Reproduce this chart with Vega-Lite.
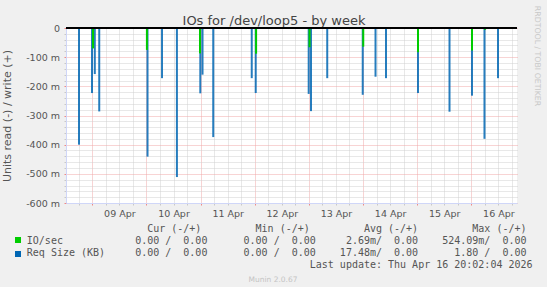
{
  "$schema": "https://vega.github.io/schema/vega-lite/v6.json",
  "width": 451,
  "height": 175,
  "autosize": "none",
  "padding": {"left": 66, "top": 28, "right": 30, "bottom": 84},
  "background": "#f0f0f0",
  "config": {
    "view": {"fill": "#ffffff", "stroke": null},
    "font": "DejaVu Sans",
    "axis": {"labelFont": "DejaVu Sans", "titleFont": "DejaVu Sans"}
  },
  "title": {
    "text": "Munin 2.0.67",
    "orient": "bottom",
    "anchor": "middle",
    "frame": "group",
    "dx": -18.5,
    "offset": 6,
    "fontSize": 7.5,
    "fontWeight": "normal",
    "font": "DejaVu Sans",
    "color": "#c4c4c4"
  },
  "data": {
    "values": [
      {"time": "2026-04-08T18:06:00Z", "series": "Req Size (KB)", "value": -0.400},
      {"time": "2026-04-08T23:52:00Z", "series": "Req Size (KB)", "value": -0.223},
      {"time": "2026-04-09T01:06:00Z", "series": "Req Size (KB)", "value": -0.158},
      {"time": "2026-04-09T03:04:00Z", "series": "Req Size (KB)", "value": -0.286},
      {"time": "2026-04-10T00:28:00Z", "series": "Req Size (KB)", "value": -0.441},
      {"time": "2026-04-10T06:54:00Z", "series": "Req Size (KB)", "value": -0.172},
      {"time": "2026-04-10T13:30:00Z", "series": "Req Size (KB)", "value": -0.511},
      {"time": "2026-04-10T23:52:00Z", "series": "Req Size (KB)", "value": -0.224},
      {"time": "2026-04-11T00:51:00Z", "series": "Req Size (KB)", "value": -0.160},
      {"time": "2026-04-11T05:36:00Z", "series": "Req Size (KB)", "value": -0.374},
      {"time": "2026-04-11T22:40:00Z", "series": "Req Size (KB)", "value": -0.172},
      {"time": "2026-04-12T00:26:00Z", "series": "Req Size (KB)", "value": -0.223},
      {"time": "2026-04-12T23:55:00Z", "series": "Req Size (KB)", "value": -0.226},
      {"time": "2026-04-13T00:56:00Z", "series": "Req Size (KB)", "value": -0.285},
      {"time": "2026-04-13T08:08:00Z", "series": "Req Size (KB)", "value": -0.172},
      {"time": "2026-04-13T23:52:00Z", "series": "Req Size (KB)", "value": -0.229},
      {"time": "2026-04-14T05:32:00Z", "series": "Req Size (KB)", "value": -0.167},
      {"time": "2026-04-14T10:11:00Z", "series": "Req Size (KB)", "value": -0.172},
      {"time": "2026-04-15T00:22:00Z", "series": "Req Size (KB)", "value": -0.223},
      {"time": "2026-04-15T14:20:00Z", "series": "Req Size (KB)", "value": -0.287},
      {"time": "2026-04-16T00:18:00Z", "series": "Req Size (KB)", "value": -0.232},
      {"time": "2026-04-16T05:50:00Z", "series": "Req Size (KB)", "value": -0.380},
      {"time": "2026-04-16T11:50:00Z", "series": "Req Size (KB)", "value": -0.172},
      {"time": "2026-04-09T00:18:00Z", "series": "IO/sec", "value": -0.070},
      {"time": "2026-04-10T00:12:00Z", "series": "IO/sec", "value": -0.075},
      {"time": "2026-04-10T23:44:00Z", "series": "IO/sec", "value": -0.087},
      {"time": "2026-04-12T00:36:00Z", "series": "IO/sec", "value": -0.088},
      {"time": "2026-04-13T00:18:00Z", "series": "IO/sec", "value": -0.066},
      {"time": "2026-04-14T00:06:00Z", "series": "IO/sec", "value": -0.064},
      {"time": "2026-04-15T00:22:00Z", "series": "IO/sec", "value": -0.083},
      {"time": "2026-04-16T00:18:00Z", "series": "IO/sec", "value": -0.077},
      {"time": "2026-04-16T06:06:00Z", "series": "IO/sec", "value": -0.006}
    ]
  },
  "layer": [
    {
      "transform": [{"filter": "datum.series === 'Req Size (KB)'"}],
      "mark": {"type": "rule", "strokeWidth": 2, "opacity": 0.85},
      "encoding": {
        "x": {
          "field": "time",
          "type": "temporal",
          "scale": {"type": "utc", "domain": [1775650800000, 1776370500000]},
          "axis": {
            "orient": "bottom",
            "values": [1775671200000, 1775692800000, 1775714400000, 1775736000000, 1775757600000, 1775779200000, 1775800800000, 1775822400000, 1775844000000, 1775865600000, 1775887200000, 1775908800000, 1775930400000, 1775952000000, 1775973600000, 1775995200000, 1776016800000, 1776038400000, 1776060000000, 1776081600000, 1776103200000, 1776124800000, 1776146400000, 1776168000000, 1776189600000, 1776211200000, 1776232800000, 1776254400000, 1776276000000, 1776297600000, 1776319200000, 1776340800000, 1776362400000],
            "labelExpr": "utchours(datum.value) == 12 ? utcFormat(datum.value, '%d %b') : ''",
            "labelOverlap": false,
            "labelFlush": false,
            "labelBound": false,
            "labelFontSize": 9.5,
            "labelColor": "#555555",
            "labelBaseline": "alphabetic",
            "labelAlign": "center",
            "labelPadding": 11.6,
            "grid": true,
            "gridColor": {"condition": {"test": "utchours(datum.value) == 0", "value": "#f0a8a8"}, "value": "#d0d0d0"},
            "gridDash": [1, 1],
            "gridWidth": 1,
            "ticks": true,
            "tickSize": 2,
            "tickColor": {"condition": {"test": "utchours(datum.value) == 0", "value": "#ee8888"}, "value": "#c8c8c8"},
            "domain": true,
            "domainColor": "#cfd6f8",
            "title": [
              "\u200b\u00a0\u00a0\u00a0\u00a0\u00a0\u00a0\u00a0\u00a0\u00a0\u00a0\u00a0\u00a0\u00a0\u00a0\u00a0\u00a0\u00a0\u00a0\u00a0\u00a0Cur\u00a0(-/+)\u00a0\u00a0\u00a0\u00a0\u00a0\u00a0\u00a0\u00a0\u00a0Min\u00a0(-/+)\u00a0\u00a0\u00a0\u00a0\u00a0\u00a0\u00a0\u00a0\u00a0Avg\u00a0(-/+)\u00a0\u00a0\u00a0\u00a0\u00a0\u00a0\u00a0\u00a0\u00a0Max\u00a0(-/+)",
              "IO/sec\u00a0\u00a0\u00a0\u00a0\u00a0\u00a0\u00a0\u00a0\u00a0\u00a0\u00a0\u00a00.00\u00a0/\u00a0\u00a00.00\u00a0\u00a0\u00a0\u00a0\u00a0\u00a00.00\u00a0/\u00a0\u00a00.00\u00a0\u00a0\u00a0\u00a0\u00a02.69m/\u00a0\u00a00.00\u00a0\u00a0\u00a0\u00a0524.09m/\u00a0\u00a00.00",
              "Req\u00a0Size\u00a0(KB)\u00a0\u00a0\u00a0\u00a0\u00a00.00\u00a0/\u00a0\u00a00.00\u00a0\u00a0\u00a0\u00a0\u00a0\u00a00.00\u00a0/\u00a0\u00a00.00\u00a0\u00a0\u00a0\u00a017.48m/\u00a0\u00a00.00\u00a0\u00a0\u00a0\u00a0\u00a0\u00a01.80\u00a0/\u00a0\u00a00.00",
              "\u200b\u00a0\u00a0\u00a0\u00a0\u00a0\u00a0\u00a0\u00a0\u00a0\u00a0\u00a0\u00a0\u00a0\u00a0\u00a0\u00a0\u00a0\u00a0\u00a0\u00a0\u00a0\u00a0\u00a0\u00a0\u00a0\u00a0\u00a0\u00a0\u00a0\u00a0\u00a0\u00a0\u00a0\u00a0\u00a0\u00a0\u00a0\u00a0\u00a0\u00a0\u00a0\u00a0\u00a0\u00a0\u00a0\u00a0\u00a0Last\u00a0update:\u00a0Thu\u00a0Apr\u00a016\u00a020:02:04\u00a02026"
            ],
            "titleFont": "DejaVu Sans Mono",
            "titleFontSize": 10,
            "titleFontWeight": "normal",
            "titleColor": "#555555",
            "titleX": -39.7,
            "titleY": 28.6,
            "titleAlign": "left",
            "titleBaseline": "alphabetic",
            "titleLineHeight": 12,
            "titleAngle": 0
          }
        },
        "y": {
          "field": "value",
          "type": "quantitative",
          "scale": {"domain": [-0.6, 0], "nice": false, "zero": false},
          "axis": {
            "orient": "left",
            "values": [0, -0.02, -0.04, -0.06, -0.08, -0.1, -0.12, -0.14, -0.16, -0.18, -0.2, -0.22, -0.24, -0.26, -0.28, -0.3, -0.32, -0.34, -0.36, -0.38, -0.4, -0.42, -0.44, -0.46, -0.48, -0.5, -0.52, -0.54, -0.56, -0.58, -0.6],
            "labelExpr": "abs(round(datum.value*1000)) % 100 == 0 ? (round(datum.value*1000) == 0 ? '0\u00a0\u00a0' : round(datum.value*1000) + '\u00a0m') : ''",
            "labelFontSize": 9.5,
            "labelColor": "#555555",
            "labelPadding": 4.5,
            "labelOverlap": false,
            "grid": true,
            "gridColor": {"condition": {"test": "abs(round(datum.value*1000)) % 100 == 0", "value": "#f0a8a8"}, "value": "#d0d0d0"},
            "gridDash": [1, 1],
            "tickSize": 2,
            "tickColor": {"condition": {"test": "abs(round(datum.value*1000)) % 100 == 0", "value": "#ee8888"}, "value": "#c8c8c8"},
            "domainColor": "#cfd6f8",
            "title": "Units read (-) / write (+)",
            "titleFontSize": 11,
            "titleFontWeight": "normal",
            "titleColor": "#555555",
            "titleAngle": -90,
            "titleX": -59,
            "titleY": 87.5,
            "titleAlign": "center",
            "titleBaseline": "middle"
          }
        },
        "y2": {"datum": 0},
        "color": {
          "field": "series",
          "type": "nominal",
          "scale": {"domain": ["IO/sec", "Req Size (KB)"], "range": ["#00cc00", "#0066b3"]},
          "legend": {
            "orient": "none",
            "legendX": -53,
            "legendY": 207,
            "title": null,
            "symbolType": "square",
            "symbolSize": 4,
            "symbolStrokeWidth": 4,
            "symbolOpacity": 1,
            "labelExpr": "''",
            "labelFont": "DejaVu Sans Mono",
            "labelFontSize": 10,
            "labelColor": "#555555",
            "labelOffset": 6,
            "rowPadding": -5.5,
            "padding": 0,
            "direction": "vertical"
          }
        }
      }
    },
    {
      "transform": [{"filter": "datum.series === 'IO/sec'"}],
      "mark": {"type": "rule", "strokeWidth": 2},
      "encoding": {
        "x": {
          "field": "time",
          "type": "temporal",
          "axis": {
            "orient": "top",
            "grid": false,
            "ticks": false,
            "labels": false,
            "domain": false,
            "title": "IOs for /dev/loop5 - by week",
            "titleFont": "DejaVu Sans",
            "titleFontSize": 13,
            "titleFontWeight": "normal",
            "titleColor": "#444444",
            "titleX": 207.5,
            "titleY": -3.5,
            "titleAlign": "center",
            "titleBaseline": "alphabetic",
            "titleAngle": 0
          }
        },
        "y": {
          "field": "value",
          "type": "quantitative",
          "axis": {
            "orient": "right",
            "grid": false,
            "ticks": false,
            "labels": false,
            "domain": false,
            "title": "RRDTOOL / TOBI OETIKER",
            "titleFontSize": 7.8,
            "titleFontWeight": "normal",
            "titleColor": "#c8c8c8",
            "titleAngle": 90,
            "titleX": 19.5,
            "titleY": 27.5,
            "titleAlign": "center",
            "titleBaseline": "middle"
          }
        },
        "y2": {"datum": 0},
        "color": {
          "field": "series",
          "type": "nominal",
          "legend": {
            "orient": "none",
            "legendX": -53,
            "legendY": 207,
            "title": null,
            "symbolType": "square",
            "symbolSize": 4,
            "symbolStrokeWidth": 4,
            "symbolOpacity": 1,
            "labelExpr": "''",
            "labelFont": "DejaVu Sans Mono",
            "labelFontSize": 10,
            "labelColor": "#555555",
            "labelOffset": 6,
            "rowPadding": -5.5,
            "padding": 0,
            "direction": "vertical"
          }
        }
      }
    },
    {
      "mark": {"type": "rule", "color": "#000000", "strokeWidth": 1},
      "encoding": {"y": {"datum": 0, "axis": null}}
    }
  ],
  "resolve": {"axis": {"x": "independent", "y": "independent"}}
}
